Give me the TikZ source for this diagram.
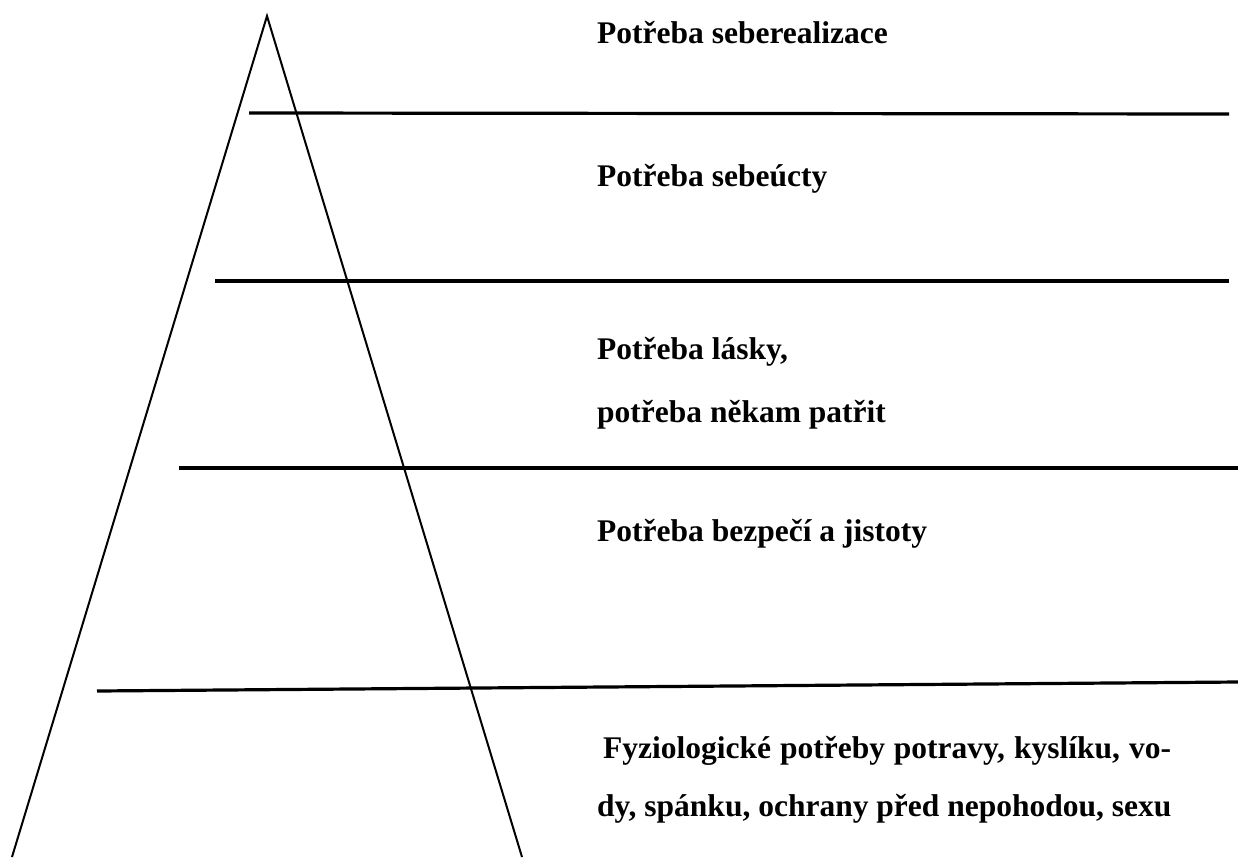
\documentclass[tikz,border=0pt]{standalone}
\usepackage{fontspec}
\setmainfont{Liberation Serif}[BoldFont={Liberation Serif Bold}]
\newfontfamily\timesbold{Liberation Serif Bold}
\begin{document}
\begin{tikzpicture}[x=1pt,y=-1pt,
  leg/.style={line width=2pt},
  level/.style={line width=3.2pt},
  lbl/.style={anchor=base west,inner sep=0pt,font=\timesbold\fontsize{31.5}{36}\selectfont}]
\useasboundingbox (0,0) rectangle (1238,857);
% pyramid
\coordinate (apex) at (267,16);
\coordinate (bl) at (12,857);
\coordinate (br) at (522,857);
\draw[leg] (bl) -- (apex) -- (br);
% level lines
\coordinate (l1a) at (249,113); \coordinate (l1b) at (1229,114);
\coordinate (l2a) at (215,281); \coordinate (l2b) at (1229,281);
\coordinate (l3a) at (179,468); \coordinate (l3b) at (1238,468);
\coordinate (l4a) at (97,691);  \coordinate (l4b) at (1238,682);
\draw[level] (l1a) -- (l1b);
\draw[level] (l2a) -- (l2b);
\draw[level] (l3a) -- (l3b);
\draw[level] (l4a) -- (l4b);
% labels
\node[lbl] (t1) at (597,43) {Potřeba seberealizace};
\node[lbl] (t2) at (597,186) {Potřeba sebeúcty};
\node[lbl] (t3a) at (597,359) {Potřeba lásky,};
\node[lbl] (t3b) at (597,422) {potřeba někam patřit};
\node[lbl] (t4) at (597,541) {Potřeba bezpečí a jistoty};
\node[lbl] (t5a) at (603,758) {\makebox[568pt][s]{Fyziologické potřeby potravy, kyslíku, vo-}};
\node[lbl] (t5b) at (597,816) {dy, spánku, ochrany před nepohodou, sexu};
\end{tikzpicture}
\end{document}
